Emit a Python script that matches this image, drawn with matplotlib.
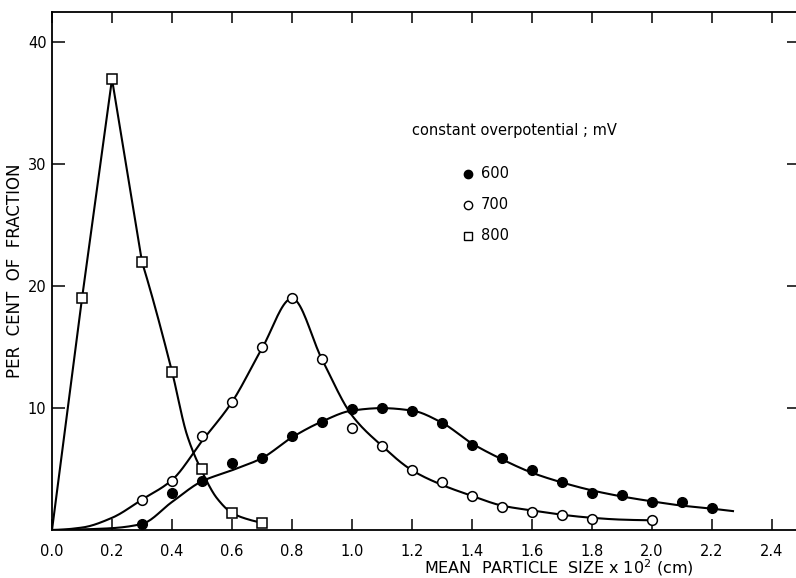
import numpy as np
import matplotlib.pyplot as plt
from matplotlib.lines import Line2D

# measured points, per cent of fraction vs mean particle size (x10^2 cm)
x600 = [0.3, 0.4, 0.5, 0.6, 0.7, 0.8, 0.9, 1.0, 1.1, 1.2, 1.3, 1.4, 1.5, 1.6, 1.7, 1.8, 1.9, 2.0, 2.1, 2.2]
y600 = [0.5, 3.0, 4.0, 5.5, 5.9, 7.7, 8.9, 9.9, 10.0, 9.8, 8.8, 7.0, 5.9, 4.9, 3.9, 3.0, 2.9, 2.3, 2.3, 1.8]

x700 = [0.3, 0.4, 0.5, 0.6, 0.7, 0.8, 0.9, 1.0, 1.1, 1.2, 1.3, 1.4, 1.5, 1.6, 1.7, 1.8, 2.0]
y700 = [2.5, 4.0, 7.7, 10.5, 15.0, 19.0, 14.0, 8.4, 6.9, 4.9, 3.9, 2.8, 1.9, 1.5, 1.2, 0.9, 0.8]

x800 = [0.1, 0.2, 0.3, 0.4, 0.5, 0.6, 0.7]
y800 = [19.0, 37.0, 22.0, 13.0, 5.0, 1.4, 0.6]

# hand-fitted curves through the points
c600_x = [0.0, 0.1, 0.2, 0.3, 0.4, 0.5, 0.6, 0.7, 0.8, 0.9, 1.0, 1.1, 1.2, 1.3, 1.4,
          1.5, 1.6, 1.7, 1.8, 1.9, 2.0, 2.1, 2.2, 2.27]
c600_y = [0.0, 0.05, 0.15, 0.5, 2.3, 4.0, 4.9, 5.9, 7.6, 8.9, 9.8, 10.0, 9.8, 8.8, 7.1,
          5.8, 4.7, 3.9, 3.25, 2.75, 2.35, 2.0, 1.75, 1.55]

c700_x = [0.0, 0.1, 0.2, 0.3, 0.4, 0.5, 0.6, 0.7, 0.8, 0.9, 1.0, 1.1, 1.2, 1.3,
          1.4, 1.5, 1.6, 1.7, 1.8, 1.9, 2.0]
c700_y = [0.0, 0.2, 1.0, 2.5, 4.1, 7.3, 10.5, 14.9, 19.0, 14.0, 9.4, 6.9, 4.9, 3.7,
          2.8, 2.0, 1.6, 1.25, 1.0, 0.85, 0.8]

c800_x = [0.0, 0.1, 0.2, 0.3, 0.4, 0.45, 0.5, 0.55, 0.6, 0.65, 0.7]
c800_y = [0.0, 19.0, 37.0, 22.0, 13.0, 7.8, 4.8, 2.6, 1.4, 0.9, 0.6]

x_ticks = [0.0, 0.2, 0.4, 0.6, 0.8, 1.0, 1.2, 1.4, 1.6, 1.8, 2.0, 2.2, 2.4]
y_ticks = [10, 20, 30, 40]


def pchip(xk, yk, xs):
    # monotone cubic hermite, same idea as scipy's PchipInterpolator
    xk = np.asarray(xk, float)
    yk = np.asarray(yk, float)
    h = np.diff(xk)
    d = np.diff(yk) / h
    m = np.zeros_like(yk)
    for i in range(1, len(xk) - 1):
        if d[i - 1] * d[i] > 0:
            w1 = 2 * h[i] + h[i - 1]
            w2 = h[i] + 2 * h[i - 1]
            m[i] = (w1 + w2) / (w1 / d[i - 1] + w2 / d[i])

    def edge(h0, h1, d0, d1):
        e = ((2 * h0 + h1) * d0 - h0 * d1) / (h0 + h1)
        if np.sign(e) != np.sign(d0):
            return 0.0
        if np.sign(d0) != np.sign(d1) and abs(e) > abs(3 * d0):
            return 3 * d0
        return e

    m[0] = edge(h[0], h[1], d[0], d[1])
    m[-1] = edge(h[-1], h[-2], d[-1], d[-2])

    idx = np.clip(np.searchsorted(xk, xs) - 1, 0, len(h) - 1)
    t = (xs - xk[idx]) / h[idx]
    h00 = 2 * t**3 - 3 * t**2 + 1
    h10 = t**3 - 2 * t**2 + t
    h01 = -2 * t**3 + 3 * t**2
    h11 = t**3 - t**2
    return (h00 * yk[idx] + h10 * h[idx] * m[idx]
            + h01 * yk[idx + 1] + h11 * h[idx] * m[idx + 1])


def smooth(xk, yk, n=400):
    xs = np.linspace(xk[0], xk[-1], n)
    return xs, pchip(xk, yk, xs)


plt.rcParams['font.family'] = 'DejaVu Sans'

fig = plt.figure(figsize=(7.96, 5.78), dpi=100)
ax = fig.add_axes([52 / 796, 48 / 578, 747 / 796, 518 / 578])

lw = 1.5

xs, ys = smooth(c600_x, c600_y)
ax.plot(xs, ys, color='black', lw=lw, zorder=2)
xs, ys = smooth(c700_x, c700_y)
ax.plot(xs, ys, color='black', lw=lw, zorder=2)

# 800 mV: sharp peak drawn straight up to 0.3, smooth tail after that
ax.plot(c800_x[:4], c800_y[:4], color='black', lw=lw, zorder=2)
xs, ys = smooth(c800_x[3:], c800_y[3:])
ax.plot(xs, ys, color='black', lw=lw, zorder=2)

ax.plot(x600, y600, 'o', ms=7, mfc='black', mec='black', ls='none', zorder=3, clip_on=False)
ax.plot(x700, y700, 'o', ms=7, mfc='white', mec='black', mew=1.1, ls='none', zorder=3, clip_on=False)
ax.plot(x800, y800, 's', ms=7, mfc='white', mec='black', mew=1.1, ls='none', zorder=3, clip_on=False)

ax.set_xlim(0, 2.49)
ax.set_ylim(0, 42.5)

ax.set_xticks(x_ticks)
ax.set_xticklabels([f'{v:.1f}' for v in x_ticks])
ax.set_yticks(y_ticks)
ax.set_yticklabels([str(v) for v in y_ticks])

ax.tick_params(axis='x', direction='in', length=8, width=1.1, pad=10, labelsize=10.5,
               top=True, bottom=True)
ax.tick_params(axis='y', direction='in', length=9, width=1.1, pad=4, labelsize=10.5,
               left=True, right=True)

for side in ['left', 'bottom', 'top', 'right']:
    ax.spines[side].set_linewidth(1.3)

ax.set_xlabel('MEAN  PARTICLE  SIZE x 10$^2$ (cm)', fontsize=11.5)
ax.xaxis.set_label_coords((559 - 52) / 747, (530 - 568) / 518)
ax.xaxis.label.set_va('center')
ax.set_ylabel('PER  CENT  OF  FRACTION', fontsize=12)
ax.yaxis.set_label_coords((15 - 52) / 747, 0.5)
ax.yaxis.label.set_va('center')

# key
ax.text(0.482, 0.772, 'constant overpotential ; mV', transform=ax.transAxes,
        fontsize=10.5, va='center', ha='left')
key = [('o', 'black', '600', 0.688), ('o', 'white', '700', 0.628), ('s', 'white', '800', 0.568)]
for mk, fc, lab, yy in key:
    ax.add_line(Line2D([0.557], [yy], marker=mk, ms=6, mfc=fc, mec='black', mew=1.0,
                       ls='none', transform=ax.transAxes))
    ax.text(0.574, yy, lab, transform=ax.transAxes, fontsize=10.5, va='center', ha='left')

fig.savefig('out.png', dpi=100)
